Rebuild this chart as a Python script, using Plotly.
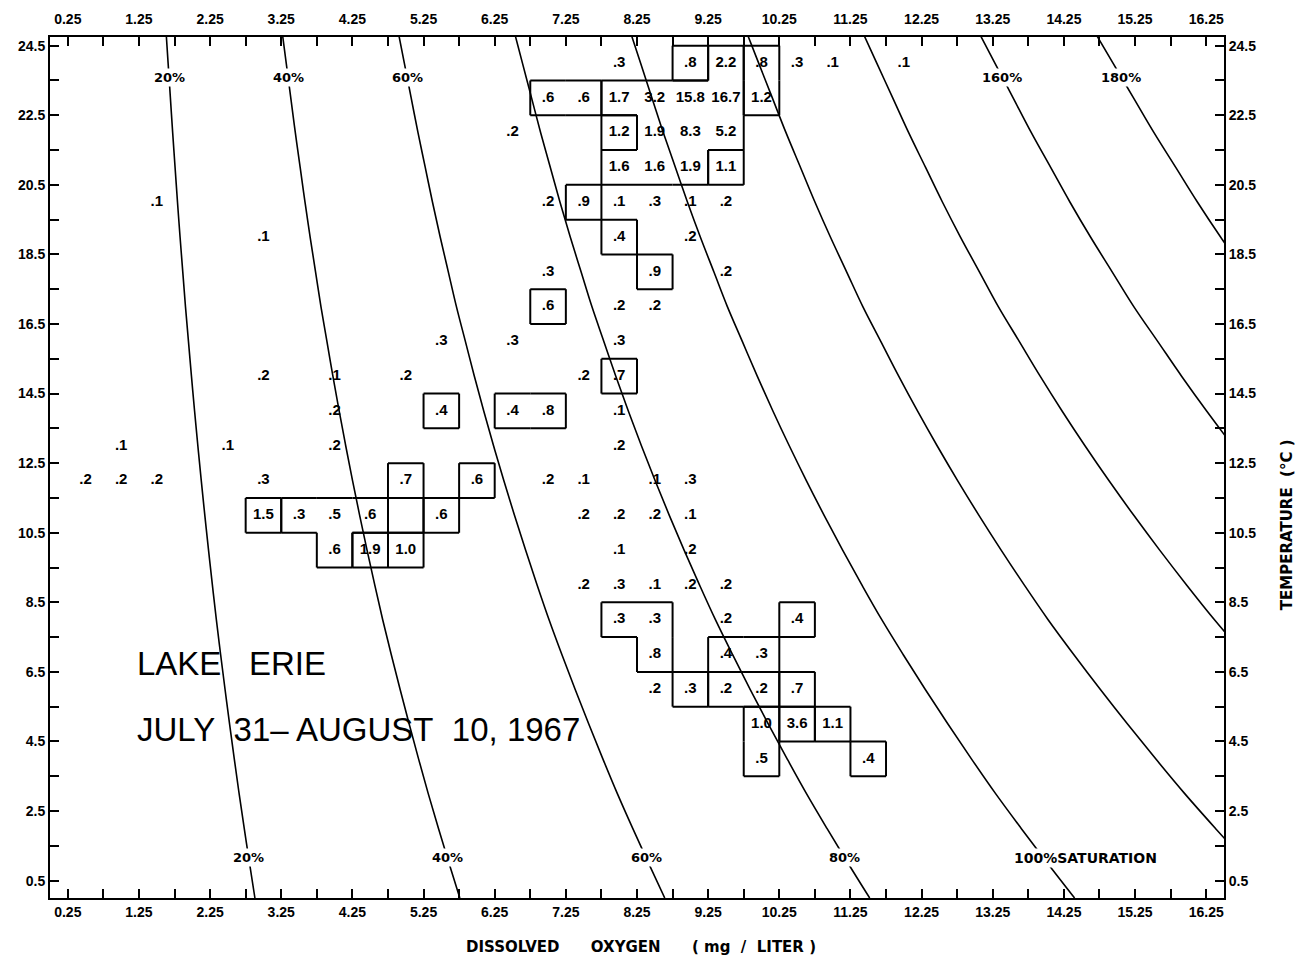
import numpy as np
import plotly.graph_objects as go

# 100% saturation curve: dissolved oxygen (mg/L) vs temperature (deg C)
sat_temp = [0, 1, 2, 3, 4, 5, 6, 7, 8, 9, 10, 11, 12, 13, 14, 15, 16, 17, 18, 19, 20, 21, 22, 23, 24, 25]
sat_do = [14.40, 14.02, 13.65, 13.29, 12.95, 12.62, 12.30, 11.99, 11.69, 11.41, 11.14, 10.88,
          10.63, 10.39, 10.16, 9.94, 9.73, 9.52, 9.33, 9.14, 8.96, 8.79, 8.62, 8.46, 8.30, 8.14]
sat_pcts = [20, 40, 60, 80, 100, 120, 140, 160, 180]
top_pct_labels = [20, 40, 60, 160, 180]
bottom_pct_labels = [20, 40, 60, 80]

# percent of observations in each 0.5 mg/L x 1 deg C cell
cell_do = [8.0, 9.0, 9.5, 10.0, 10.5, 11.0, 12.0,
           7.0, 7.5, 8.0, 8.5, 9.0, 9.5, 10.0,
           6.5, 8.0, 8.5, 9.0, 9.5,
           8.0, 8.5, 9.0, 9.5,
           1.5, 7.0, 7.5, 8.0, 8.5, 9.0, 9.5,
           3.0, 8.0, 9.0,
           7.0, 8.5, 9.5,
           7.0, 8.0, 8.5,
           5.5, 6.5, 8.0,
           3.0, 4.0, 5.0, 7.5, 8.0,
           4.0, 5.5, 6.5, 7.0, 8.0,
           1.0, 2.5, 4.0, 8.0,
           0.5, 1.0, 1.5, 3.0, 5.0, 6.0, 7.0, 7.5, 8.5, 9.0,
           3.0, 3.5, 4.0, 4.5, 5.5, 7.5, 8.0, 8.5, 9.0,
           4.0, 4.5, 5.0, 8.0, 9.0,
           7.5, 8.0, 8.5, 9.0, 9.5,
           8.0, 8.5, 9.5, 10.5,
           8.5, 9.5, 10.0,
           8.5, 9.0, 9.5, 10.0, 10.5,
           10.0, 10.5, 11.0,
           10.0, 11.5]
cell_temp = [24] * 7 + [23] * 7 + [22] * 5 + [21] * 4 + [20] * 7 + [19] * 3 + [18] * 3 + [17] * 3 + \
            [16] * 3 + [15] * 5 + [14] * 5 + [13] * 4 + [12] * 10 + [11] * 9 + [10] * 5 + [9] * 5 + \
            [8] * 4 + [7] * 3 + [6] * 5 + [5] * 3 + [4] * 2
cell_val = [.3, .8, 2.2, .8, .3, .1, .1,
            .6, .6, 1.7, 3.2, 15.8, 16.7, 1.2,
            .2, 1.2, 1.9, 8.3, 5.2,
            1.6, 1.6, 1.9, 1.1,
            .1, .2, .9, .1, .3, .1, .2,
            .1, .4, .2,
            .3, .9, .2,
            .6, .2, .2,
            .3, .3, .3,
            .2, .1, .2, .2, .7,
            .2, .4, .4, .8, .1,
            .1, .1, .2, .2,
            .2, .2, .2, .3, .7, .6, .2, .1, .1, .3,
            1.5, .3, .5, .6, .6, .2, .2, .2, .1,
            .6, 1.9, 1.0, .1, .2,
            .2, .3, .1, .2, .2,
            .3, .3, .2, .4,
            .8, .4, .3,
            .2, .3, .2, .2, .7,
            1.0, 3.6, 1.1,
            .5, .4]

# boxed groups of cells (DO, temperature)
boxes = [
    [(9.0, 24)],
    [(10.0, 24), (10.0, 23)],
    [(7.0, 23), (7.5, 23)],
    [(9.5, 24), (8.0, 23), (8.5, 23), (9.0, 23), (9.5, 23), (8.5, 22), (9.0, 22), (9.5, 22),
     (8.0, 21), (8.5, 21), (9.0, 21)],
    [(8.0, 22)],
    [(9.5, 21)],
    [(7.5, 20)],
    [(8.0, 19)],
    [(8.5, 18)],
    [(7.0, 17)],
    [(8.0, 15)],
    [(5.5, 14)],
    [(6.5, 14), (7.0, 14)],
    [(3.0, 11)],
    [(3.5, 11), (4.0, 11), (4.5, 11), (4.0, 10)],
    [(5.0, 11)],
    [(4.5, 10)],
    [(5.0, 10)],
    [(5.0, 12)],
    [(5.5, 11)],
    [(6.0, 12)],
    [(8.0, 8), (8.5, 8), (8.5, 7)],
    [(9.0, 6)],
    [(9.5, 7), (10.0, 7)],
    [(10.5, 8)],
    [(9.5, 6), (10.0, 6)],
    [(10.5, 6)],
    [(10.0, 5), (10.0, 4)],
    [(10.5, 5)],
    [(11.0, 5)],
    [(11.5, 4)],
]

x_ticks = [0.25 + i for i in range(17)]
y_ticks = [0.5 + 2 * i for i in range(13)]

FONT = "Liberation Sans"
WIDE = "DejaVu Sans"
tickfont = dict(family=FONT, size=14, color="black", weight="bold")

fig = go.Figure()

# saturation curves
for p in sat_pcts:
    fig.add_trace(go.Scatter(
        x=[p / 100 * s for s in sat_do], y=sat_temp, mode="lines",
        line=dict(color="black", width=1.6, shape="spline"), hoverinfo="skip"
    ))

# box outlines (only the outer edges of each group)
cw, ch = 0.5, 1.0
bx, by = [], []
for group in boxes:
    cells = set(group)
    for cx, ct in group:
        x0, x1, y0, y1 = cx - cw / 2, cx + cw / 2, ct - ch / 2, ct + ch / 2
        if (cx - cw, ct) not in cells:
            bx += [x0, x0, None]; by += [y0, y1, None]
        if (cx + cw, ct) not in cells:
            bx += [x1, x1, None]; by += [y0, y1, None]
        if (cx, ct - ch) not in cells:
            bx += [x0, x1, None]; by += [y0, y0, None]
        if (cx, ct + ch) not in cells:
            bx += [x0, x1, None]; by += [y1, y1, None]
fig.add_trace(go.Scatter(x=bx, y=by, mode="lines", line=dict(color="black", width=2),
                         hoverinfo="skip"))

# cell values
labels = [("%.1f" % v).lstrip("0") for v in cell_val]
fig.add_trace(go.Scatter(
    x=cell_do, y=cell_temp, mode="text", text=labels,
    textfont=dict(family=FONT, size=15, color="black", weight="bold"), hoverinfo="skip"
))

# dummy trace for the mirrored top/right axes
fig.add_trace(go.Scatter(x=[None], y=[None], xaxis="x2", yaxis="y2", hoverinfo="skip"))

# percent labels on the curves
t_top, t_bot = 23.6, 1.15
s_top = float(np.interp(t_top, sat_temp, sat_do))
s_bot = float(np.interp(t_bot, sat_temp, sat_do))
pct_font = dict(family=WIDE, size=13, color="black", weight="bold")
for p in top_pct_labels:
    fig.add_annotation(x=p / 100 * s_top, y=t_top, text=f"{p}%", showarrow=False,
                       font=pct_font, bgcolor="white", borderpad=1)
for p in bottom_pct_labels:
    fig.add_annotation(x=p / 100 * s_bot, y=t_bot, text=f"{p}%", showarrow=False,
                       font=pct_font, bgcolor="white", borderpad=1)
fig.add_annotation(x=s_bot, y=t_bot, text="100%SATURATION", showarrow=False, xanchor="left",
                   xshift=-32, font=dict(pct_font, size=14), bgcolor="white", borderpad=1)

# title block
big_font = dict(family=FONT, size=33, color="black")
fig.add_annotation(x=1.2, y=6.75, text="LAKE&nbsp;&nbsp;&nbsp;ERIE", showarrow=False, xanchor="left",
                   font=big_font)
fig.add_annotation(x=1.2, y=4.85, text="JULY&nbsp;&nbsp;31\u2013 AUGUST&nbsp;&nbsp;10, 1967", showarrow=False,
                   xanchor="left", font=big_font)

# axis titles
title_font = dict(family=WIDE, size=15, color="black", weight="bold")
fig.add_annotation(xref="paper", yref="paper", x=0.503, y=0, yshift=-60, showarrow=False,
                   text="DISSOLVED" + "&nbsp;" * 6 + "OXYGEN" + "&nbsp;" * 6 + "( mg  /  LITER )",
                   font=title_font)
fig.add_annotation(xref="paper", yref="paper", x=1, xshift=74, y=0.433, showarrow=False,
                   textangle=-90, text="TEMPERATURE&nbsp;&nbsp;(\u00b0C )", font=title_font)

xaxis_common = dict(
    range=[0, 16.5], tickmode="array", tickvals=x_ticks, ticktext=["%g" % t for t in x_ticks],
    ticks="inside", ticklen=9, tickwidth=2, tickcolor="black", tickfont=tickfont,
    showline=True, linecolor="black", linewidth=2, showgrid=False, zeroline=False, automargin=False,
    minor=dict(tick0=0.25, dtick=0.5, ticks="inside", ticklen=9, tickwidth=2, tickcolor="black"),
)
yaxis_common = dict(
    range=[0, 24.75], tickmode="array", tickvals=y_ticks, ticktext=["%g" % t for t in y_ticks],
    ticks="inside", ticklen=9, tickwidth=2, tickcolor="black", tickfont=tickfont,
    showline=True, linecolor="black", linewidth=2, showgrid=False, zeroline=False, automargin=False,
    minor=dict(tick0=0.5, dtick=1, ticks="inside", ticklen=9, tickwidth=2, tickcolor="black"),
)

fig.update_layout(
    width=1308, height=964,
    margin=dict(l=42, r=92, t=29, b=74),
    plot_bgcolor="white", paper_bgcolor="white",
    showlegend=False,
    xaxis=xaxis_common,
    yaxis=yaxis_common,
    xaxis2=dict(xaxis_common, overlaying="x", side="top", anchor="y", ticklabelstandoff=5),
    yaxis2=dict(yaxis_common, overlaying="y", side="right", anchor="x"),
)

fig.write_html("out.html")
